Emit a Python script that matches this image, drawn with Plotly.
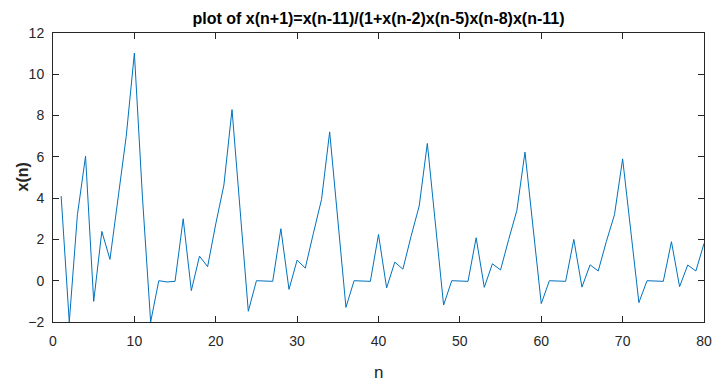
import plotly.graph_objects as go

n_values = list(range(1, 81))
x_values = [
    4.10, -2.00, 3.20, 6.03, -1.00, 2.39, 1.03, 4.00, 7.00, 11.03,
    4.00, -2.00, 0.00, -0.06, -0.03, 3.00, -0.48, 1.19, 0.68, 2.75,
    4.63, 8.29, 3.20, -1.48, 0.00, -0.03, -0.03, 2.52, -0.42, 1.00,
    0.61, 2.30, 3.94, 7.21, 2.90, -1.29, 0.00, -0.03, -0.03, 2.24,
    -0.35, 0.90, 0.56, 2.15, 3.62, 6.65, 2.70, -1.18, 0.00, -0.03,
    -0.03, 2.08, -0.32, 0.82, 0.52, 2.00, 3.40, 6.23, 2.55, -1.11,
    0.00, -0.03, -0.03, 2.00, -0.31, 0.77, 0.47, 1.90, 3.20, 5.90,
    2.40, -1.06, 0.00, -0.03, -0.03, 1.89, -0.29, 0.76, 0.47, 1.80,
]
x_ticks = [0, 10, 20, 30, 40, 50, 60, 70, 80]
y_ticks = [-2, 0, 2, 4, 6, 8, 10, 12]

FONT = "Liberation Sans, Arial, sans-serif"
AX = "#262626"
W, H = 712, 381
ML, MR, MT, MB = 53, 8, 33, 59

fig = go.Figure(
    go.Scatter(
        x=n_values, y=x_values, mode="lines",
        line=dict(color="#0072BD", width=1),
        hoverinfo="skip",
    )
)

axis_common = dict(
    showline=True, linecolor=AX, linewidth=1, mirror="ticks",
    ticks="inside", ticklen=6, tickwidth=1, tickcolor=AX,
    showgrid=False, zeroline=False,
    tickfont=dict(family=FONT, size=14, color=AX),
    ticklabeloverflow="allow",
    automargin=False,
)

fig.update_layout(
    width=W, height=H,
    margin=dict(l=ML, r=MR, t=MT, b=MB),
    paper_bgcolor="white", plot_bgcolor="white",
    showlegend=False,
    title=dict(
        text="<b>plot of x(n+1)=x(n-11)/(1+x(n-2)x(n-5)x(n-8)x(n-11)</b>",
        font=dict(family=FONT, size=16, color="black"),
        x=(ML + (W - ML - MR) / 2) / W, xanchor="center", y=1 - 18 / H, yanchor="middle",
    ),
    xaxis=dict(range=[0, 80], tickvals=x_ticks, ticklabelstandoff=6, **axis_common),
    yaxis=dict(range=[-2, 12], tickvals=y_ticks, ticklabelstandoff=5, **axis_common),
    annotations=[
        dict(text="n", xref="paper", yref="paper",
             x=0.5, y=-(372 - (H - MB)) / (H - MT - MB),
             xanchor="center", yanchor="middle", showarrow=False,
             font=dict(family=FONT, size=17, color=AX)),
        dict(text="<b>x(n)</b>", xref="paper", yref="paper", textangle=-90,
             x=-(ML - 22) / (W - ML - MR), y=0.5,
             xanchor="center", yanchor="middle", showarrow=False,
             font=dict(family=FONT, size=16, color=AX)),
    ],
)

fig.write_html("out.html")
